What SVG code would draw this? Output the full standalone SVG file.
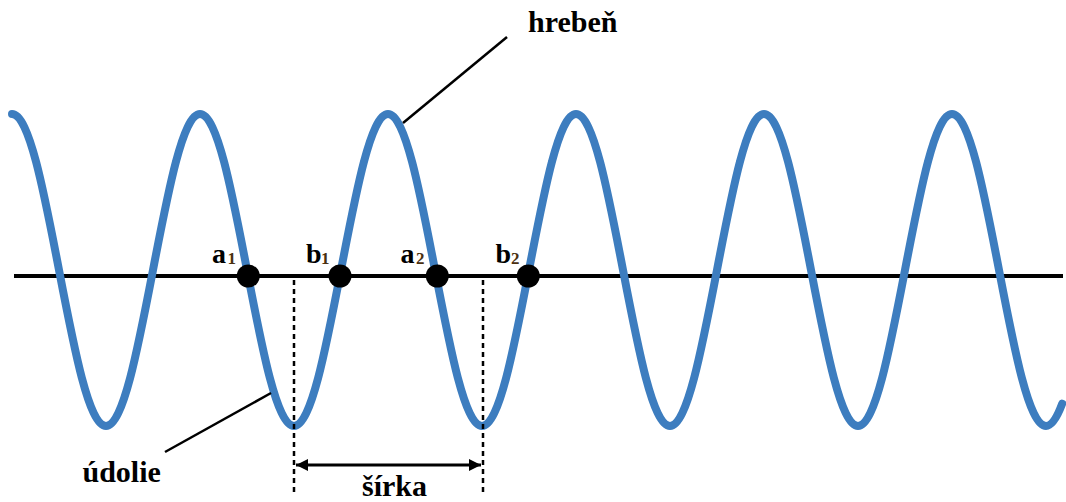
<svg xmlns="http://www.w3.org/2000/svg" width="1066" height="502" viewBox="0 0 1066 502">
  <style>
    text { font-family: 'Liberation Serif', 'Times New Roman', Times, serif; font-weight: 700; fill: #000; }
    .big { font-size: 30px; }
    .pt { font-size: 28px; }
    .sub { font-size: 17px; fill: #4a3010; }
    .lead { stroke: #000; stroke-width: 2.5; fill: none; }
    .dash { stroke: #000; stroke-width: 2.5; stroke-dasharray: 5 4; fill: none; }
    .dot { fill: #000; }
  </style>
  <defs>
    <marker id="ah" viewBox="0 0 12 12" refX="12" refY="6" markerWidth="12" markerHeight="12" markerUnits="userSpaceOnUse" orient="auto-start-reverse">
      <path d="M0,0 L12,6 L0,12 Z" fill="#000"/>
    </marker>
  </defs>
  <rect width="1066" height="502" fill="#fff"/>

  <g id="baseline">
    <line x1="14" y1="276" x2="1063" y2="276" stroke="#000" stroke-width="4"/>
  </g>

  <g id="wave">
    <path d="M12,114 C29,114 43.67,190.1 59,270 S89,426 106,426 S137.67,349.9 153,270 S183,114 200,114
      S231.67,190.1 247,270 S277,426 294,426 S325.67,349.9 341,270 S371,114 388,114
      S419.67,190.1 435,270 S465,426 482,426 S513.67,349.9 529,270 S559,114 576,114
      S607.67,190.1 623,270 S653,426 670,426 S701.67,349.9 717,270 S747,114 764,114
      S795.67,190.1 811,270 S841,426 858,426 S889.67,349.9 905,270 S935,114 952,114
      S983.67,190.1 999,270 S1029,426 1046,426 C1051.61,426 1056.97,417.71 1062.2,403.7"
      fill="none" stroke="#3d7dbf" stroke-width="8" stroke-linecap="round" stroke-linejoin="round"/>
  </g>

  <g id="connectors">
    <line class="lead" x1="507" y1="37" x2="403" y2="123"/>
    <line class="lead" x1="165" y1="452" x2="271" y2="393"/>
    <line class="dash" x1="294" y1="280" x2="294" y2="493"/>
    <line class="dash" x1="483" y1="280" x2="483" y2="493"/>
    <line x1="296" y1="465" x2="481" y2="465" stroke="#000" stroke-width="3" marker-start="url(#ah)" marker-end="url(#ah)"/>
  </g>

  <g id="point-a1">
    <circle class="dot" cx="248.3" cy="276" r="11.5"/>
    <text class="pt" x="212" y="263" font-family="Liberation Serif, serif">a</text>
    <text class="sub" x="227.5" y="264" font-family="Liberation Serif, serif">1</text>
  </g>
  <g id="point-b1">
    <circle class="dot" cx="340" cy="276" r="11.5"/>
    <text class="pt" x="306" y="263" font-family="Liberation Serif, serif">b</text>
    <text class="sub" x="321" y="264" font-family="Liberation Serif, serif">1</text>
  </g>
  <g id="point-a2">
    <circle class="dot" cx="437.3" cy="276" r="11.5"/>
    <text class="pt" x="400.5" y="263" font-family="Liberation Serif, serif">a</text>
    <text class="sub" x="416" y="264" font-family="Liberation Serif, serif">2</text>
  </g>
  <g id="point-b2">
    <circle class="dot" cx="528.3" cy="276" r="11.5"/>
    <text class="pt" x="495.5" y="263" font-family="Liberation Serif, serif">b</text>
    <text class="sub" x="511" y="264" font-family="Liberation Serif, serif">2</text>
  </g>

  <g id="label-hreben">
    <text class="big" x="528" y="32" font-family="Liberation Serif, serif">hrebeň</text>
  </g>
  <g id="label-udolie">
    <text class="big" x="82.5" y="482" font-family="Liberation Serif, serif">údolie</text>
  </g>
  <g id="label-sirka">
    <text class="big" x="362" y="496" font-family="Liberation Serif, serif">šírka</text>
  </g>
</svg>
